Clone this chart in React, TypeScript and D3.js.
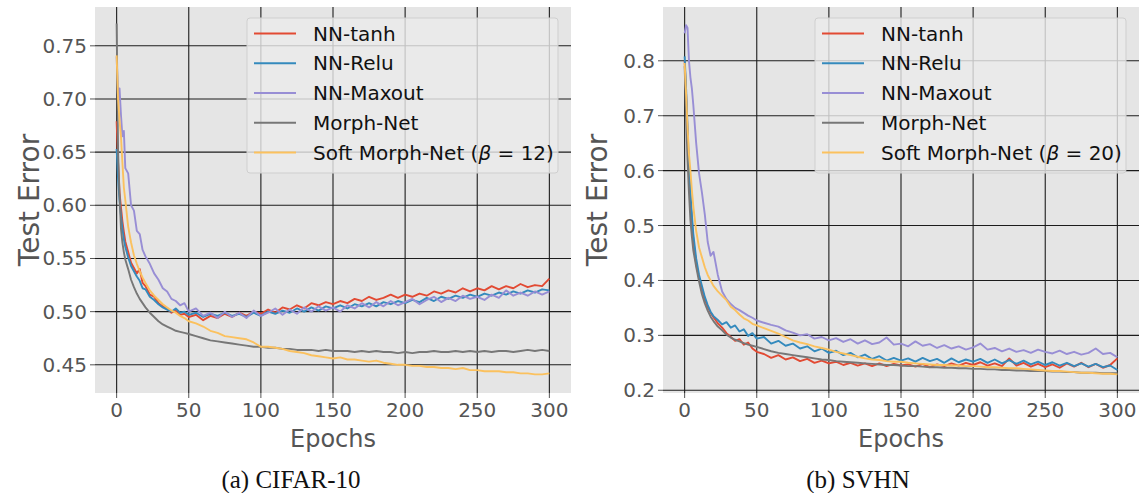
import React, { useEffect, useRef } from "react";
import * as d3 from "d3";

const epochs = [0, 1, 2, 3, 4, 5, 6, 8, 10, 12, 14, 16, 18, 20, 23, 26, 29, 32, 35, 38, 41, 44, 47, 50,
  55, 60, 65, 70, 75, 80, 85, 90, 95, 100, 105, 110, 115, 120, 125, 130, 135, 140, 145, 150,
  155, 160, 165, 170, 175, 180, 185, 190, 195, 200, 205, 210, 215, 220, 225, 230, 235, 240, 245, 250,
  255, 260, 265, 270, 275, 280, 285, 290, 295, 300];

const seriesNames = ["NN-tanh", "NN-Relu", "NN-Maxout", "Morph-Net", "Soft Morph-Net"];
const seriesColors = ["#E24A33", "#348ABD", "#988ED5", "#777777", "#FBC15E"];

// (a) CIFAR-10
const cifarTanh = [0.679, 0.64, 0.612, 0.598, 0.585, 0.575, 0.566, 0.556, 0.546, 0.541, 0.536, 0.540, 0.527, 0.524, 0.516, 0.514, 0.508, 0.505, 0.503, 0.499, 0.501, 0.497, 0.498, 0.495,
  0.497, 0.492, 0.496, 0.494, 0.498, 0.495, 0.499, 0.496, 0.500, 0.498, 0.502, 0.499, 0.504, 0.502, 0.506, 0.503, 0.508, 0.506, 0.509, 0.507,
  0.510, 0.508, 0.512, 0.510, 0.514, 0.511, 0.513, 0.516, 0.513, 0.516, 0.514, 0.517, 0.515, 0.519, 0.517, 0.520, 0.518, 0.522, 0.519, 0.522,
  0.520, 0.524, 0.521, 0.524, 0.522, 0.526, 0.523, 0.525, 0.524, 0.531];
const cifarRelu = [0.653, 0.625, 0.605, 0.59, 0.578, 0.568, 0.561, 0.551, 0.543, 0.538, 0.533, 0.529, 0.522, 0.521, 0.514, 0.511, 0.507, 0.504, 0.502, 0.500, 0.503, 0.499, 0.500, 0.497,
  0.499, 0.495, 0.498, 0.496, 0.499, 0.496, 0.498, 0.495, 0.499, 0.496, 0.500, 0.498, 0.501, 0.499, 0.503, 0.500, 0.504, 0.501, 0.505, 0.503,
  0.506, 0.503, 0.507, 0.505, 0.508, 0.505, 0.509, 0.507, 0.510, 0.508, 0.511, 0.509, 0.513, 0.510, 0.514, 0.512, 0.515, 0.513, 0.516, 0.514,
  0.517, 0.515, 0.518, 0.516, 0.519, 0.517, 0.520, 0.518, 0.521, 0.520];
const cifarMaxout = [0.74, 0.70, 0.71, 0.685, 0.665, 0.670, 0.635, 0.630, 0.600, 0.595, 0.576, 0.573, 0.558, 0.552, 0.545, 0.536, 0.530, 0.522, 0.519, 0.512, 0.510, 0.506, 0.508, 0.500,
  0.503, 0.496, 0.499, 0.494, 0.500, 0.495, 0.499, 0.494, 0.501, 0.496, 0.499, 0.503, 0.497, 0.502, 0.498, 0.504, 0.500, 0.505, 0.501, 0.504,
  0.500, 0.506, 0.503, 0.508, 0.504, 0.509, 0.505, 0.510, 0.506, 0.509, 0.512, 0.507, 0.511, 0.514, 0.509, 0.513, 0.510, 0.515, 0.512, 0.514,
  0.511, 0.516, 0.513, 0.520, 0.515, 0.518, 0.515, 0.519, 0.516, 0.519];
const cifarMorph = [0.771, 0.65, 0.61, 0.578, 0.565, 0.556, 0.549, 0.540, 0.530, 0.523, 0.517, 0.512, 0.508, 0.504, 0.499, 0.495, 0.491, 0.488, 0.486, 0.484, 0.482, 0.481, 0.480, 0.479,
  0.477, 0.475, 0.473, 0.472, 0.471, 0.470, 0.469, 0.468, 0.467, 0.467, 0.466, 0.466, 0.465, 0.465, 0.464, 0.464, 0.464, 0.463, 0.464, 0.463,
  0.463, 0.463, 0.462, 0.463, 0.462, 0.463, 0.462, 0.462, 0.461, 0.462, 0.461, 0.462, 0.462, 0.463, 0.462, 0.462, 0.463, 0.462, 0.463, 0.462,
  0.463, 0.462, 0.463, 0.463, 0.462, 0.463, 0.464, 0.463, 0.464, 0.463];
const cifarSoft = [0.741, 0.70, 0.68, 0.665, 0.64, 0.617, 0.605, 0.580, 0.565, 0.553, 0.545, 0.538, 0.532, 0.527, 0.520, 0.515, 0.511, 0.507, 0.504, 0.501, 0.499, 0.496, 0.494, 0.491,
  0.489, 0.486, 0.482, 0.480, 0.477, 0.476, 0.475, 0.474, 0.471, 0.467, 0.467, 0.466, 0.465, 0.463, 0.462, 0.461, 0.459, 0.458, 0.457, 0.456,
  0.457, 0.455, 0.455, 0.454, 0.453, 0.454, 0.452, 0.451, 0.450, 0.450, 0.449, 0.449, 0.448, 0.448, 0.447, 0.447, 0.446, 0.447, 0.445, 0.445,
  0.444, 0.444, 0.444, 0.443, 0.443, 0.442, 0.442, 0.441, 0.441, 0.442];

// (b) SVHN
const svhnTanh = [0.80, 0.74, 0.67, 0.60, 0.55, 0.51, 0.475, 0.43, 0.405, 0.385, 0.365, 0.352, 0.341, 0.333, 0.322, 0.314, 0.304, 0.297, 0.290, 0.293, 0.283, 0.287, 0.276, 0.270,
  0.266, 0.259, 0.264, 0.256, 0.260, 0.253, 0.257, 0.250, 0.254, 0.249, 0.252, 0.246, 0.250, 0.245, 0.249, 0.244, 0.249, 0.244, 0.248, 0.245,
  0.247, 0.243, 0.248, 0.242, 0.247, 0.244, 0.249, 0.245, 0.250, 0.246, 0.251, 0.245, 0.249, 0.244, 0.258, 0.245, 0.250, 0.243, 0.248, 0.242,
  0.247, 0.241, 0.249, 0.243, 0.250, 0.242, 0.248, 0.241, 0.246, 0.258];
const svhnRelu = [0.808, 0.75, 0.68, 0.61, 0.56, 0.52, 0.485, 0.44, 0.41, 0.39, 0.37, 0.355, 0.343, 0.335, 0.328, 0.320, 0.324, 0.314, 0.318, 0.307, 0.311, 0.299, 0.304, 0.294,
  0.297, 0.285, 0.290, 0.281, 0.285, 0.276, 0.280, 0.271, 0.276, 0.268, 0.272, 0.264, 0.268, 0.260, 0.265, 0.257, 0.262, 0.254, 0.259, 0.254,
  0.258, 0.252, 0.259, 0.253, 0.257, 0.250, 0.258, 0.251, 0.256, 0.252, 0.257, 0.250, 0.256, 0.249, 0.255, 0.248, 0.254, 0.247, 0.252, 0.246,
  0.251, 0.245, 0.250, 0.244, 0.249, 0.243, 0.248, 0.242, 0.245, 0.237];
const svhnMaxout = [0.85, 0.865, 0.86, 0.80, 0.77, 0.75, 0.72, 0.65, 0.595, 0.56, 0.52, 0.47, 0.445, 0.452, 0.41, 0.38, 0.366, 0.357, 0.350, 0.346, 0.341, 0.336, 0.332, 0.327,
  0.323, 0.319, 0.316, 0.309, 0.305, 0.300, 0.302, 0.294, 0.297, 0.291, 0.295, 0.288, 0.293, 0.285, 0.291, 0.284, 0.287, 0.296, 0.283, 0.285,
  0.280, 0.289, 0.281, 0.284, 0.277, 0.282, 0.276, 0.280, 0.274, 0.278, 0.285, 0.274, 0.277, 0.271, 0.276, 0.270, 0.273, 0.268, 0.274, 0.270,
  0.267, 0.272, 0.266, 0.270, 0.265, 0.268, 0.276, 0.266, 0.268, 0.260];
const svhnMorph = [0.79, 0.70, 0.62, 0.56, 0.51, 0.48, 0.455, 0.425, 0.398, 0.375, 0.358, 0.345, 0.334, 0.326, 0.316, 0.309, 0.301, 0.296, 0.292, 0.289, 0.286, 0.283, 0.281, 0.279,
  0.275, 0.271, 0.268, 0.266, 0.264, 0.262, 0.260, 0.258, 0.256, 0.255, 0.253, 0.252, 0.251, 0.250, 0.249, 0.248, 0.247, 0.246, 0.246, 0.245,
  0.244, 0.244, 0.243, 0.242, 0.242, 0.241, 0.241, 0.240, 0.240, 0.239, 0.239, 0.238, 0.238, 0.237, 0.237, 0.236, 0.236, 0.235, 0.235, 0.235,
  0.234, 0.234, 0.233, 0.233, 0.232, 0.232, 0.232, 0.231, 0.231, 0.231];
const svhnSoft = [0.796, 0.74, 0.68, 0.63, 0.60, 0.565, 0.535, 0.49, 0.46, 0.442, 0.424, 0.41, 0.40, 0.39, 0.38, 0.372, 0.364, 0.352, 0.346, 0.338, 0.331, 0.327, 0.321, 0.318,
  0.313, 0.308, 0.303, 0.297, 0.291, 0.287, 0.284, 0.280, 0.277, 0.274, 0.270, 0.267, 0.264, 0.261, 0.258, 0.256, 0.255, 0.253, 0.252, 0.252,
  0.250, 0.249, 0.248, 0.247, 0.246, 0.246, 0.245, 0.245, 0.244, 0.244, 0.243, 0.242, 0.242, 0.241, 0.240, 0.240, 0.239, 0.238, 0.237, 0.236,
  0.235, 0.235, 0.234, 0.233, 0.232, 0.232, 0.231, 0.230, 0.230, 0.229];

const xTicks = [0, 50, 100, 150, 200, 250, 300];
const cifarYTicks = [0.45, 0.50, 0.55, 0.60, 0.65, 0.70, 0.75];
const svhnYTicks = [0.2, 0.3, 0.4, 0.5, 0.6, 0.7, 0.8];

const panels = [
  {
    id: "a", series: [cifarTanh, cifarRelu, cifarMaxout, cifarMorph, cifarSoft],
    left: 95, right: 571, yDomain: [0.4235, 0.7865], yTicks: cifarYTicks, yFormat: ".2f",
    beta: "12", yLabelX: 30, legendX: 247, caption: "(a) CIFAR-10", captionX: 291,
  },
  {
    id: "b", series: [svhnTanh, svhnRelu, svhnMaxout, svhnMorph, svhnSoft],
    left: 663, right: 1139, yDomain: [0.195, 0.898], yTicks: svhnYTicks, yFormat: ".1f",
    beta: "20", yLabelX: 598, legendX: 815, caption: "(b) SVHN", captionX: 858,
  },
];

const TOP = 7;
const BOTTOM = 393;
const FONT = "DejaVu Sans, sans-serif";

function drawPanel(svg: any, p: any) {
  const x = d3.scaleLinear().domain([-15, 315]).range([p.left, p.right]);
  const y = d3.scaleLinear().domain(p.yDomain).range([BOTTOM, TOP]);

  const g = svg.append("g");

  g.append("clipPath").attr("id", "clip-" + p.id)
    .append("rect")
    .attr("x", p.left).attr("y", TOP)
    .attr("width", p.right - p.left).attr("height", BOTTOM - TOP);

  // background
  g.append("rect")
    .attr("x", p.left).attr("y", TOP)
    .attr("width", p.right - p.left).attr("height", BOTTOM - TOP)
    .attr("fill", "#E5E5E5");

  // grid
  g.selectAll(".vgrid").data(xTicks).enter().append("line")
    .attr("x1", (d: number) => x(d)).attr("x2", (d: number) => x(d))
    .attr("y1", TOP).attr("y2", BOTTOM)
    .attr("stroke", "#1c1c1c").attr("stroke-width", 1.1);
  g.selectAll(".hgrid").data(p.yTicks).enter().append("line")
    .attr("x1", p.left).attr("x2", p.right)
    .attr("y1", (d: number) => y(d)).attr("y2", (d: number) => y(d))
    .attr("stroke", "#1c1c1c").attr("stroke-width", 1.1);

  // tick marks + labels
  g.selectAll(".xtick").data(xTicks).enter().append("line")
    .attr("x1", (d: number) => x(d)).attr("x2", (d: number) => x(d))
    .attr("y1", BOTTOM).attr("y2", BOTTOM + 5)
    .attr("stroke", "#555").attr("stroke-width", 1);
  g.selectAll(".xlab").data(xTicks).enter().append("text")
    .attr("x", (d: number) => x(d)).attr("y", BOTTOM + 24)
    .attr("text-anchor", "middle")
    .style("font-family", FONT).style("font-size", "20px").attr("fill", "#555")
    .text((d: number) => d);

  const fmt = d3.format(p.yFormat);
  g.selectAll(".ytick").data(p.yTicks).enter().append("line")
    .attr("x1", p.left - 5).attr("x2", p.left)
    .attr("y1", (d: number) => y(d)).attr("y2", (d: number) => y(d))
    .attr("stroke", "#555").attr("stroke-width", 1);
  g.selectAll(".ylab").data(p.yTicks).enter().append("text")
    .attr("x", p.left - 8).attr("y", (d: number) => y(d) + 7)
    .attr("text-anchor", "end")
    .style("font-family", FONT).style("font-size", "20px").attr("fill", "#555")
    .text((d: number) => fmt(d));

  // axis titles
  g.append("text")
    .attr("x", (p.left + p.right) / 2).attr("y", 447)
    .attr("text-anchor", "middle")
    .style("font-family", FONT).style("font-size", "24px").attr("fill", "#555")
    .text("Epochs");
  g.append("text")
    .attr("transform", "translate(" + (p.yLabelX + 9) + "," + (TOP + BOTTOM) / 2 + ") rotate(-90)")
    .attr("text-anchor", "middle")
    .style("font-family", FONT).style("font-size", "28px").attr("fill", "#555")
    .text("Test Error");

  // curves
  const line = d3.line<number>()
    .x((_d: number, i: number) => x(epochs[i]))
    .y((d: number) => y(d));
  g.append("g").attr("clip-path", "url(#clip-" + p.id + ")")
    .selectAll("path").data(p.series).enter().append("path")
    .attr("d", (d: number[]) => line(d))
    .attr("fill", "none")
    .attr("stroke", (_d: any, i: number) => seriesColors[i])
    .attr("stroke-width", 1.9)
    .attr("stroke-linejoin", "round");

  // legend
  const lg = g.append("g").attr("transform", "translate(" + p.legendX + ",18)");
  lg.append("rect")
    .attr("width", 311).attr("height", 155).attr("rx", 3)
    .attr("fill", "#EBEBEB").attr("fill-opacity", 0.8)
    .attr("stroke", "#cfcfcf").attr("stroke-width", 1);
  const rows = lg.selectAll(".row").data(seriesNames).enter().append("g")
    .attr("transform", (_d: string, i: number) => "translate(0," + (15.5 + i * 29.75) + ")");
  rows.append("line")
    .attr("x1", 7).attr("x2", 49)
    .attr("stroke", (_d: string, i: number) => seriesColors[i]).attr("stroke-width", 1.9);
  const txt = rows.append("text")
    .attr("x", 66).attr("y", 7)
    .style("font-family", FONT).style("font-size", "20px").attr("fill", "#111");
  txt.append("tspan").text((d: string, i: number) => (i === 4 ? d + " (" : d));
  txt.filter((_d: string, i: number) => i === 4).each(function (this: any) {
    const t = d3.select(this);
    t.append("tspan").style("font-style", "italic").text("β");
    t.append("tspan").text(" = " + p.beta + ")");
  });

  // caption
  svg.append("text")
    .attr("x", p.captionX).attr("y", 488)
    .attr("text-anchor", "middle")
    .style("font-family", "Liberation Serif, serif").style("font-size", "25px").attr("fill", "#111")
    .text(p.caption);
}

export default function App() {
  const ref = useRef<SVGSVGElement>(null);

  useEffect(() => {
    const svg = d3.select(ref.current);
    svg.selectAll("*").remove();
    panels.forEach((p) => drawPanel(svg, p));
  }, []);

  return (
    <svg
      ref={ref}
      width={1142}
      height={493}
      style={{ position: "absolute", left: 0, top: 0, background: "#fff" }}
    />
  );
}
